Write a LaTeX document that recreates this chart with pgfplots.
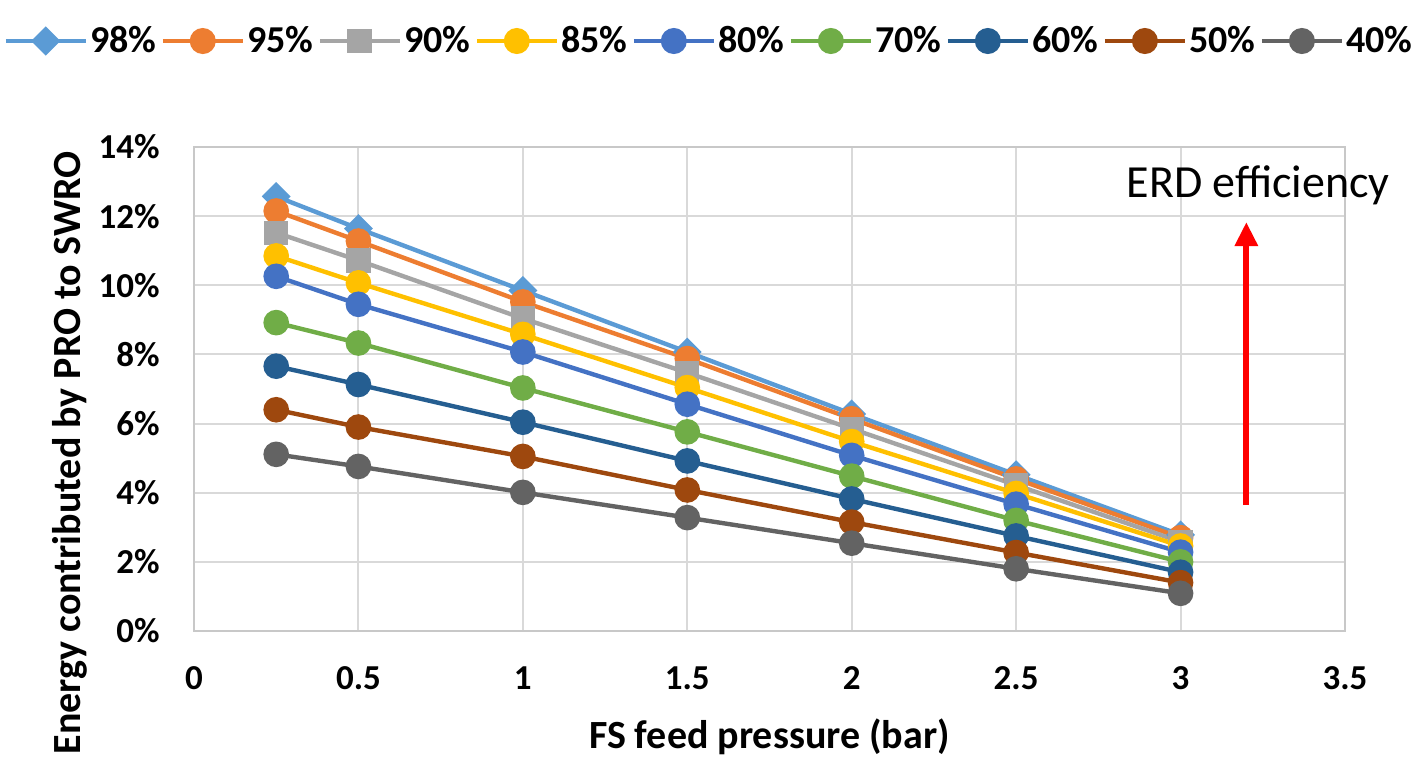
\documentclass[border=0pt]{standalone}
\usepackage{pgfplots}
\pgfplotsset{compat=1.18}
\usepackage{pgfplotstable}
\usepackage{fontspec}
\setmainfont{Carlito}
\usetikzlibrary{arrows.meta}
\definecolor{c98}{HTML}{5B9BD5}
\definecolor{c95}{HTML}{ED7D31}
\definecolor{c90}{HTML}{A5A5A5}
\definecolor{c85}{HTML}{FFC000}
\definecolor{c80}{HTML}{4472C4}
\definecolor{c70}{HTML}{70AD47}
\definecolor{c60}{HTML}{255E91}
\definecolor{c50}{HTML}{9E480E}
\definecolor{c40}{HTML}{636363}
\definecolor{gridc}{HTML}{D9D9D9}
\definecolor{framec}{HTML}{C8C8C8}
\pgfplotstableread{
x     e98   e95   e90   e85   e80   e70   e60   e50   e40
0.25  12.57 12.15 11.52 10.85 10.26 8.92  7.66  6.40  5.11
0.5   11.64 11.28 10.72 10.07 9.45  8.33  7.13  5.90  4.76
1     9.85  9.52  9.04  8.58  8.07  7.03  6.04  5.05  4.01
1.5   8.07  7.88  7.47  7.04  6.56  5.76  4.92  4.08  3.28
2     6.28  6.14  5.85  5.48  5.08  4.48  3.82  3.15  2.54
2.5   4.52  4.40  4.22  3.98  3.67  3.20  2.75  2.27  1.80
3     2.78  2.70  2.58  2.46  2.28  2.00  1.70  1.40  1.09
}\datatable
\begin{document}
\begin{tikzpicture}
\useasboundingbox (-97pt,-68pt) rectangle (612pt,315.5pt);
\begin{axis}[
  width=575.5pt, height=242pt, scale only axis,
  at={(0,0)}, anchor=south west,
  xmin=0, xmax=3.5, ymin=0, ymax=14,
  xtick={0,0.5,1,1.5,2,2.5,3,3.5},
  xticklabels={0,0.5,1,1.5,2,2.5,3,3.5},
  ytick={0,2,4,6,8,10,12,14},
  yticklabels={0\%,2\%,4\%,6\%,8\%,10\%,12\%,14\%},
  major tick length=0pt,
  grid=major,
  major grid style={color=gridc, line width=1pt},
  axis line style={color=framec, line width=1pt},
  ticklabel style={font=\fontsize{17.5}{20}\selectfont\bfseries, text=black},
  xticklabel style={anchor=center, yshift=-23.5pt},
  yticklabel style={anchor=east, inner xsep=0pt, xshift=-17pt},
  xlabel={FS feed pressure (bar)},
  ylabel={Energy contributed by PRO to SWRO},
  label style={font=\fontsize{20}{23}\selectfont\bfseries},
  xlabel style={at={(axis description cs:0.5,0)}, anchor=center, yshift=-53pt},
  ylabel style={at={(axis description cs:0,0.5)}, anchor=center, xshift=-32pt, yshift=62pt},
  clip=false,
  legend columns=9,
  legend style={at={(0.4474,1.219)}, anchor=center, draw=none, fill=none,
    font=\fontsize{19}{22}\selectfont\bfseries,
    nodes={inner xsep=1pt, inner ysep=1pt},
    /tikz/every even column/.append style={column sep=1pt}},
  legend image code/.code={\draw[#1, line width=2.4pt, mark repeat=2, mark phase=2]
     plot coordinates {(0pt,0pt) (20pt,0pt) (40pt,0pt)};},
  every axis plot/.append style={line width=2.2pt, mark options={solid}},
]
\addplot[color=c98, mark=square*, mark size=4pt, mark options={rotate=45}] table[x=x,y=e98]{\datatable};
\addlegendentry{98\%}
\addplot[color=c95, mark=*, mark size=5.3pt] table[x=x,y=e95]{\datatable};
\addlegendentry{95\%}
\addplot[color=c90, mark=square*, mark size=5pt] table[x=x,y=e90]{\datatable};
\addlegendentry{90\%}
\addplot[color=c85, mark=*, mark size=5.3pt] table[x=x,y=e85]{\datatable};
\addlegendentry{85\%}
\addplot[color=c80, mark=*, mark size=5.3pt] table[x=x,y=e80]{\datatable};
\addlegendentry{80\%}
\addplot[color=c70, mark=*, mark size=5.3pt] table[x=x,y=e70]{\datatable};
\addlegendentry{70\%}
\addplot[color=c60, mark=*, mark size=5.3pt] table[x=x,y=e60]{\datatable};
\addlegendentry{60\%}
\addplot[color=c50, mark=*, mark size=5.3pt] table[x=x,y=e50]{\datatable};
\addlegendentry{50\%}
\addplot[color=c40, mark=*, mark size=5.3pt] table[x=x,y=e40]{\datatable};
\addlegendentry{40\%}
\draw[red, line width=3pt, -{Triangle[width=11pt,length=12pt]}] (axis cs:3.2,3.64) -- (axis cs:3.2,11.83);
\node[anchor=base, inner sep=0pt, font=\fontsize{23}{26}\selectfont] at (axis cs:3.236,12.53) {ERD efficiency};
\end{axis}
\end{tikzpicture}
\end{document}
